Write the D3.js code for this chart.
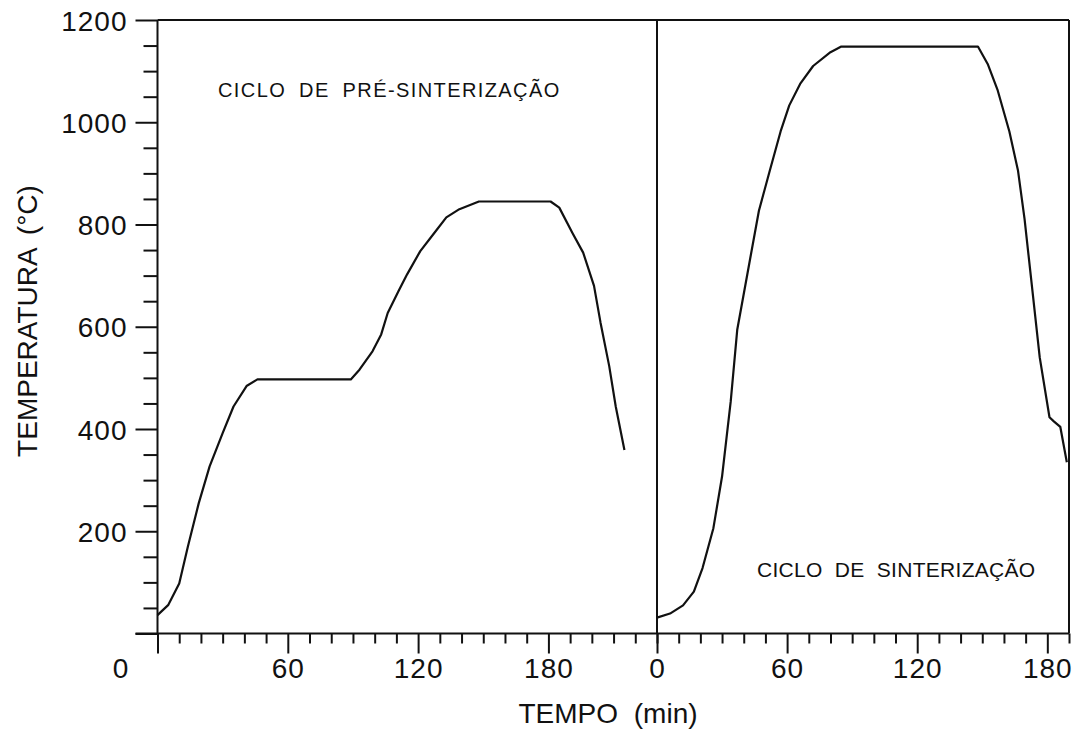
<!DOCTYPE html>
<html>
<head>
<meta charset="utf-8">
<script src="https://cdn.jsdelivr.net/npm/d3@7"></script>
<style>
	body { margin: 0; background: white; }
	text { font-family: "Liberation Sans", Arial, sans-serif; fill: #111; }
</style>
</head>
<body>
<div class="chart"></div>
<script>
// pre-sintering cycle (left panel)
const preTime = [0, 5, 10, 14, 19, 24, 30, 35, 41, 46, 89, 93, 99, 103, 106, 111, 115, 121, 127, 133, 139, 148, 181, 185, 191, 196, 201, 204, 208, 211, 215]
const preTemp = [36, 56, 98, 170, 255, 327, 392, 444, 484, 497, 497, 516, 552, 585, 627, 670, 703, 748, 781, 814, 830, 845, 845, 833, 784, 745, 680, 608, 523, 444, 359]

// sintering cycle (right panel)
const sinTime = [0, 6, 12, 17, 21, 26, 30, 34, 37, 43, 47, 52, 57, 61, 66, 72, 80, 85, 148, 152.5, 157, 162.5, 166.5, 169.5, 172.5, 176.5, 181, 183, 186, 189]
const sinTemp = [31, 39, 55, 82, 128, 206, 307, 454, 594, 734, 827, 905, 982, 1033, 1075, 1110, 1137, 1148, 1148, 1114, 1064, 982, 905, 811, 695, 540, 423, 415, 404, 335]

const preTicks = [60, 120, 180]
const sinTicks = [0, 60, 120, 180]
const tempTicks = [200, 400, 600, 800, 1000, 1200]

const preLabel = "CICLO DE PRÉ-SINTERIZAÇÃO"
const sinLabel = "CICLO DE SINTERIZAÇÃO"

function plot_chart() {
	let width = 1076
	let height = 733
	let left = 157.5, mid = 657, right = 1069
	let top = 20, bottom = 633.5

	var svg = d3.select(".chart")
		.append("svg")
		.attr("width", width)
		.attr("height", height)

	let xPre = d3.scaleLinear().domain([0, 230]).range([left, mid])
	let xSin = d3.scaleLinear().domain([0, 190]).range([mid, right])
	let y = d3.scaleLinear().domain([0, 1200]).range([bottom, top])

	//x axes, minor tick every 10 min, longer every 60
	function xAxis(scale, maxT, labels) {
		let g = svg.append("g")
			.attr("transform", `translate(0,${bottom})`)
			.call(d3.axisBottom(scale)
				.tickValues(d3.range(0, maxT + 1, 10))
				.tickSize(10)
				.tickFormat(d => labels.includes(d) ? d : ""))
		g.select(".domain").remove()
		g.selectAll(".tick line")
			.attr("stroke", "#111")
			.attr("stroke-width", 2)
			.attr("y2", d => d % 60 == 0 ? 20 : 10)
		g.selectAll(".tick text")
			.attr("y", 44)
			.attr("dy", 0)
			.style("font-size", "28px")
			.style("letter-spacing", "1px")
			.attr("fill", "#111")
	}
	xAxis(xPre, 230, preTicks)
	xAxis(xSin, 190, sinTicks)

	//y axis
	let gy = svg.append("g")
		.attr("transform", `translate(${left},0)`)
		.call(d3.axisLeft(y)
			.tickValues(d3.range(0, 1201, 50))
			.tickSize(14)
			.tickFormat(d => tempTicks.includes(d) ? d : ""))
	gy.select(".domain").remove()
	gy.selectAll(".tick line")
		.attr("stroke", "#111")
		.attr("stroke-width", 2)
		.attr("x2", d => d % 200 == 0 ? -22 : -14)
	gy.selectAll(".tick text")
		.attr("x", -30)
		.attr("dy", "0.36em")
		.style("font-size", "28px")
		.style("letter-spacing", "1px")
		.attr("fill", "#111")

	// the origin "0" sits left of the axis
	svg.append("text")
		.attr("x", left - 37)
		.attr("y", bottom + 44)
		.attr("text-anchor", "middle")
		.style("font-size", "28px")
		.text("0")

	//frame and panel divider
	const frame = [
		[left, top, right, top],
		[right, top, right, bottom],
		[left - 22, bottom, right, bottom],
		[left, top, left, bottom],
		[mid, top, mid, bottom]
	]
	svg.selectAll("line.frame")
		.data(frame)
		.join("line")
		.attr("class", "frame")
		.attr("x1", d => d[0]).attr("y1", d => d[1])
		.attr("x2", d => d[2]).attr("y2", d => d[3])
		.attr("stroke", "#111")
		.attr("stroke-width", 2)

	// plotter-style polylines
	let linePre = d3.line()
		.x(i => xPre(preTime[i]))
		.y(i => y(preTemp[i]))
	let lineSin = d3.line()
		.x(i => xSin(sinTime[i]))
		.y(i => y(sinTemp[i]))

	svg.append("path")
		.attr("d", linePre(d3.range(preTime.length)))
		.attr("fill", "none")
		.attr("stroke", "#111")
		.attr("stroke-width", 2.2)
		.attr("stroke-linejoin", "round")
	svg.append("path")
		.attr("d", lineSin(d3.range(sinTime.length)))
		.attr("fill", "none")
		.attr("stroke", "#111")
		.attr("stroke-width", 2.2)
		.attr("stroke-linejoin", "round")

	//annotations
	svg.append("text")
		.attr("x", 218)
		.attr("y", 97)
		.style("font-size", "20px")
		.style("letter-spacing", "1.4px")
		.style("word-spacing", "6px")
		.text(preLabel)
	svg.append("text")
		.attr("x", 757)
		.attr("y", 577)
		.style("font-size", "21px")
		.style("letter-spacing", "0.3px")
		.style("word-spacing", "6px")
		.text(sinLabel)

	//axis titles
	svg.append("text")
		.attr("x", 608)
		.attr("y", 723)
		.attr("text-anchor", "middle")
		.style("font-size", "28px")
		.style("word-spacing", "8px")
		.text("TEMPO (min)")
	svg.append("text")
		.attr("transform", "translate(37,321) rotate(-90)")
		.attr("text-anchor", "middle")
		.style("font-size", "28px")
		.style("word-spacing", "6px")
		.text("TEMPERATURA (°C)")
}

plot_chart()
</script>
</body>
</html>
